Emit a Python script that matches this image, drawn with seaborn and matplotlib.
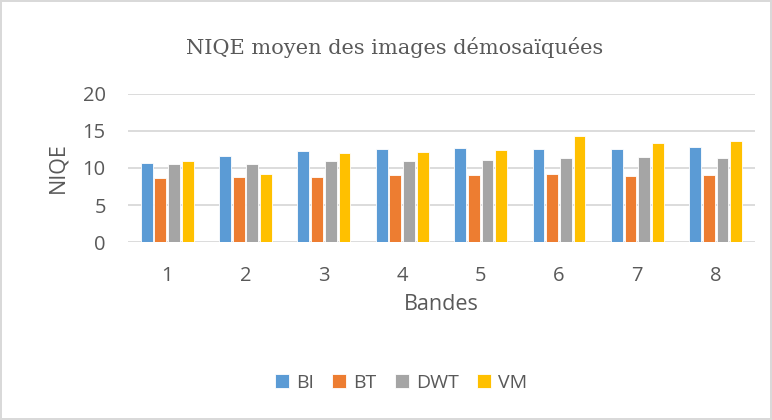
import pandas as pd
import matplotlib.pyplot as plt
import seaborn as sns

# Values
bands = ["1", "2", "3", "4", "5", "6", "7", "8"]
methods = ["BI", "BT", "DWT", "VM"]
bi = [10.7, 11.6, 12.3, 12.5, 12.7, 12.6, 12.6, 12.9]
bt = [8.7, 8.8, 8.8, 9.1, 9.0, 9.2, 8.9, 9.0]
dwt = [10.5, 10.5, 10.9, 10.9, 11.1, 11.3, 11.5, 11.4]
vm = [11.0, 9.2, 12.0, 12.2, 12.4, 14.3, 13.4, 13.6]
colors = ["#5B9BD5", "#ED7D31", "#A5A5A5", "#FFC000"]

df = pd.DataFrame({
    "Bandes": bands * 4,
    "Méthode": [m for m in methods for _ in bands],
    "NIQE": bi + bt + dwt + vm,
})

sns.set_theme(style="white")
plt.rcParams['font.family'] = ['Open Sans', 'DejaVu Sans']
text_col = "#595959"

fig = plt.figure(figsize=(7.72, 4.2), dpi=100, edgecolor="#D9D9D9", linewidth=1.5)
ax = fig.add_axes([0.1658, 0.4238, 0.812, 0.3524])

sns.barplot(data=df, x="Bandes", y="NIQE", hue="Méthode", palette=colors,
            saturation=1, width=0.7, gap=0.14, edgecolor="white", linewidth=0.6,
            ax=ax, zorder=3)

ax.set_ylim(0, 20)
ax.set_yticks([0, 5, 10, 15, 20])
ax.yaxis.grid(True, color="#D9D9D9", linewidth=1.3, zorder=0)
ax.set_axisbelow(True)
sns.despine(ax=ax, left=True, bottom=True, top=True, right=True)
ax.tick_params(axis="both", length=0, labelsize=14.5, labelcolor=text_col)
ax.tick_params(axis="x", pad=17)
ax.tick_params(axis="y", pad=16)
ax.set_xlabel("Bandes", fontsize=15.5, color=text_col, va="center")
ax.xaxis.set_label_coords(0.5, -0.425)
ax.set_ylabel("NIQE", fontsize=15.5, color=text_col, va="center")
ax.yaxis.set_label_coords(-0.1116, 0.5)

fig.text(395 / 772, 1 - 47 / 420, "NIQE moyen des images démosaïquées",
         ha="center", va="center", fontsize=15, color=text_col,
         family=["DejaVu Serif"])

handles, labels = ax.get_legend_handles_labels()
ax.get_legend().remove()
fig.legend(handles, labels, loc="center", bbox_to_anchor=(401 / 772, 1 - 383 / 420),
           ncol=4, frameon=False, fontsize=14, handlelength=0.72, handleheight=0.72,
           handletextpad=0.35, columnspacing=0.95, labelcolor=text_col)

fig.savefig("out.png", dpi=100, edgecolor=fig.get_edgecolor())
